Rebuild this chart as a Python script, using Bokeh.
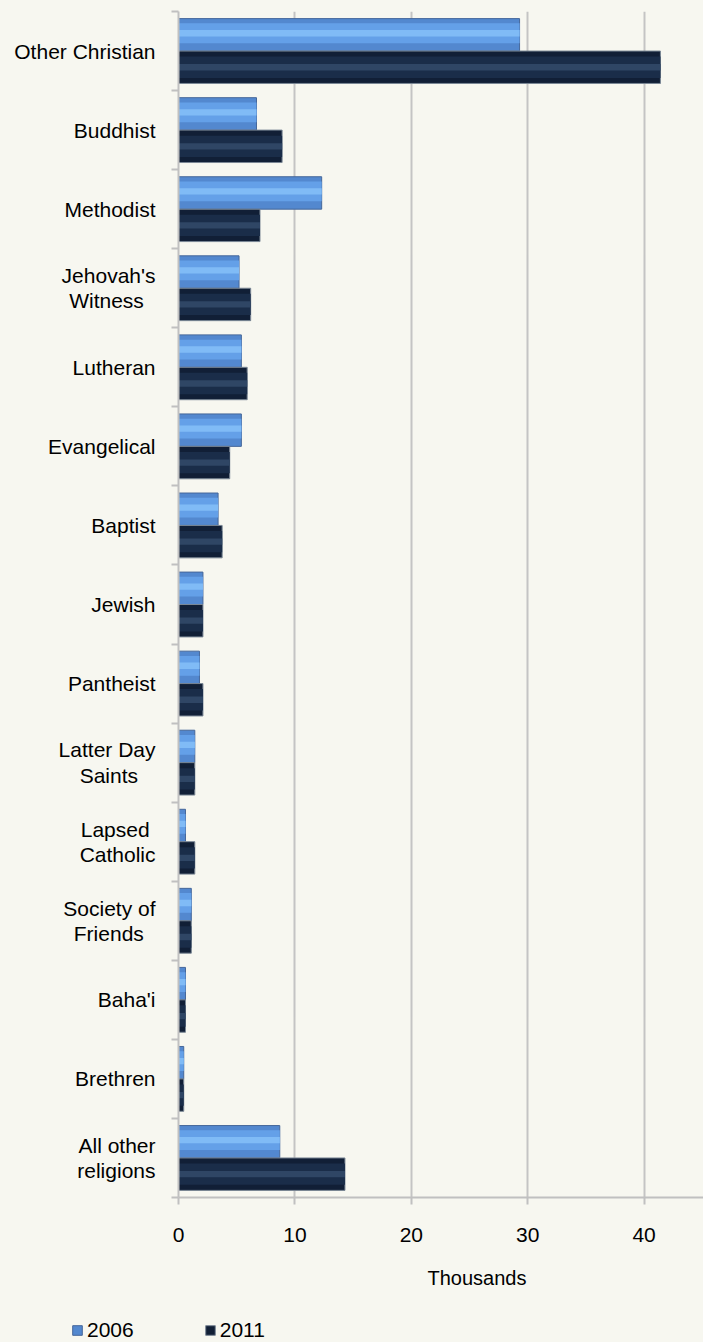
from bokeh.plotting import figure
from bokeh.layouts import column
from bokeh.models import (ColumnDataSource, Range1d, FixedTicker, Legend, LegendItem, Title)
from bokeh.transform import dodge
from bokeh.embed import file_html
from bokeh.resources import INLINE

NB = "\u00a0"
categories = ["Other Christian", "Buddhist", "Methodist", "Jehovah's\nWitness" + NB * 2, "Lutheran",
              "Evangelical", "Baptist", "Jewish", "Pantheist", "Latter Day\nSaints" + NB * 3,
              "Lapsed" + NB + "\nCatholic", "Society of\nFriends" + NB * 2, "Baha'i", "Brethren",
              "All other\nreligions"]
v2006 = [29.3, 6.7, 12.3, 5.2, 5.4, 5.4, 3.4, 2.1, 1.8, 1.4, 0.6, 1.1, 0.6, 0.45, 8.7]
v2011 = [41.4, 8.9, 7.0, 6.2, 5.9, 4.4, 3.75, 2.1, 2.1, 1.4, 1.4, 1.1, 0.6, 0.45, 14.3]
x_ticks = [0, 10, 20, 30, 40]
series = ["2006", "2011"]

BG = "#f7f7f0"
FONT = "Liberation Sans"
n = len(categories)
idx = list(range(n))
src = ColumnDataSource(dict(y=idx, v06=v2006, v11=v2011))

C06 = dict(fill_color="#5388cf", line_color="#45679a", line_width=1)
C11 = dict(fill_color="#111f36", line_color="#7a8795", line_width=1)

p = figure(width=703, height=1310, output_backend="svg", toolbar_location=None,
           x_range=Range1d(0, 45.1), y_range=Range1d(n - 0.5, -0.5),
           min_border_left=178, min_border_right=0, min_border_top=11, min_border_bottom=113)
p.background_fill_color = BG
p.border_fill_color = BG
p.outline_line_color = None

# 2006 bars (light blue, bevel-like layers)
p.hbar(y=dodge('y', -0.205), left=0, right='v06', height=0.41, source=src, **C06)
p.hbar(y=dodge('y', -0.225), left=0, right='v06', height=0.25, source=src,
       fill_color="#64a0e8", line_color=None)
p.hbar(y=dodge('y', -0.225), left=0, right='v06', height=0.08, source=src,
       fill_color="#80bbf6", line_color=None)

# 2011 bars (dark navy)
p.hbar(y=dodge('y', 0.205), left=0, right='v11', height=0.41, source=src, **C11)
p.hbar(y=dodge('y', 0.205), left=0, right='v11', height=0.27, source=src,
       fill_color="#1a2d49", line_color=None)
p.hbar(y=dodge('y', 0.205), left=0, right='v11', height=0.08, source=src,
       fill_color="#2f4665", line_color=None)

# x axis
xa = p.xaxis[0]
xa.ticker = FixedTicker(ticks=x_ticks)
xa.axis_line_color = "#c0c0c0"
xa.axis_line_width = 2
xa.major_tick_line_color = "#c0c0c0"
xa.major_tick_line_width = 2
xa.major_tick_in = 0
xa.major_tick_out = 7
xa.minor_tick_line_color = None
xa.major_label_standoff = 23
xa.major_label_text_font = FONT
xa.major_label_text_font_size = "21px"
xa.major_label_text_color = "#000000"

# y axis
ya = p.yaxis[0]
ya.ticker = FixedTicker(ticks=idx, minor_ticks=[i - 0.5 for i in range(n + 1)])
ya.major_label_overrides = {i: c for i, c in enumerate(categories)}
ya.axis_line_color = "#c0c0c0"
ya.axis_line_width = 2
ya.major_tick_line_color = None
ya.major_tick_in = 0
ya.major_tick_out = 0
ya.minor_tick_line_color = "#c0c0c0"
ya.minor_tick_line_width = 2
ya.minor_tick_in = 0
ya.minor_tick_out = 7
ya.major_label_standoff = 16
ya.major_label_text_font = FONT
ya.major_label_text_font_size = "21px"
ya.major_label_text_line_height = 1.1
ya.major_label_text_color = "#000000"

p.xgrid.ticker = FixedTicker(ticks=x_ticks)
p.xgrid.grid_line_color = "#c4c4c4"
p.xgrid.grid_line_width = 2
p.ygrid.visible = False

t = Title(text="Thousands", align="left", offset=249, text_font_size="20px",
          text_font_style="normal", text_font=FONT, text_color="#000000", standoff=40)
p.add_layout(t, "below")

# legend strip below the chart
lg = figure(width=703, height=32, output_backend="svg", toolbar_location=None,
            x_range=Range1d(1000, 1001), y_range=Range1d(1000, 1001),
            x_axis_type=None, y_axis_type=None,
            min_border_left=0, min_border_right=0, min_border_top=0, min_border_bottom=0)
lg.background_fill_color = BG
lg.border_fill_color = BG
lg.outline_line_color = None
lg.grid.visible = False
r06 = lg.hbar(y='y', left=0, right='v06', height=0.41, source=src, **C06)
r11 = lg.hbar(y='y', left=0, right='v11', height=0.41, source=src, **C11)

legend_x = 71
if "frame_align" in lg.properties():
    lg.frame_align = False
    p.frame_align = False
else:
    legend_x = 71 - 178

legend = Legend(items=[LegendItem(label=series[0], renderers=[r06]),
                       LegendItem(label=series[1], renderers=[r11])],
                orientation="horizontal", location=(legend_x, 0),
                glyph_width=12, glyph_height=12, label_standoff=4, spacing=70,
                padding=0, margin=0, background_fill_alpha=0, border_line_alpha=0,
                label_text_font=FONT, label_text_font_size="21px", label_text_color="#000000")
lg.add_layout(legend, "center")

layout = column(p, lg, spacing=0)
layout.styles = {"background-color": BG}
open("out.html", "w").write(file_html(layout, INLINE))
